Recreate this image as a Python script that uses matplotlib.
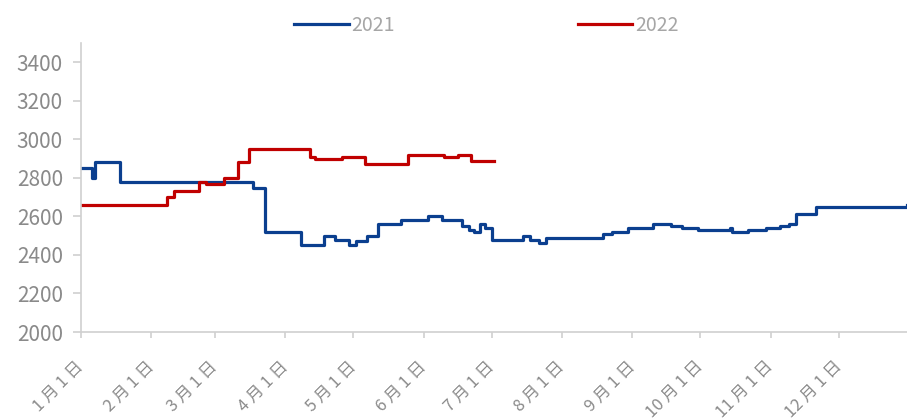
import matplotlib
matplotlib.use("Agg")
import matplotlib.pyplot as plt
import pandas as pd

plt.rcParams["font.family"] = ["Noto Sans CJK SC", "DejaVu Sans"]

# 2021: step breakpoints (day of year, price)
days_2021 = [0, 5, 6, 17, 76, 81, 97, 107, 112, 118, 121, 126, 131, 141, 153, 159,
             168, 171, 173, 176, 178, 181, 195, 198, 202, 205, 230, 234, 241, 252,
             260, 265, 272, 286, 287, 294, 302, 308, 312, 315, 324, 364]
vals_2021 = [2850, 2800, 2880, 2780, 2750, 2520, 2450, 2500, 2480, 2450, 2470, 2500, 2560, 2580, 2600, 2580,
             2550, 2530, 2520, 2560, 2540, 2480, 2500, 2480, 2460, 2490, 2510, 2520, 2540, 2560,
             2550, 2540, 2530, 2540, 2520, 2530, 2540, 2550, 2560, 2610, 2650, 2660]

# 2022: step breakpoints
days_2022 = [0, 38, 41, 52, 55, 63, 69, 74, 101, 103, 115, 125, 144, 160, 166, 172, 182]
vals_2022 = [2660, 2700, 2730, 2780, 2770, 2800, 2880, 2950, 2910, 2900, 2910, 2870, 2920,
             2910, 2920, 2890, 2890]

month_labels = [f"{m} 月 1 日" for m in range(1, 13)]

base = pd.Timestamp("2021-01-01")
x21 = [base + pd.Timedelta(days=d) for d in days_2021]
x22 = [base + pd.Timedelta(days=d) for d in days_2022]

fig = plt.figure(figsize=(9.07, 4.2), dpi=100)
ax = fig.add_axes([0.0893, 0.2095, 0.9107, 0.688])

ax.plot(x21, vals_2021, drawstyle="steps-post", color="#0b3f8f", lw=2.3, label="2021")
ax.plot(x22, vals_2022, drawstyle="steps-post", color="#c00000", lw=2.3, label="2022")

ax.set_ylim(2000, 3500)
ax.set_yticks(range(2000, 3401, 200))
ax.set_xlim(base, pd.Timestamp("2021-12-31"))
ticks = [pd.Timestamp(f"2021-{m:02d}-01") for m in range(1, 13)]
ax.set_xticks(ticks)
ax.set_xticklabels(month_labels, rotation=45, ha="right", va="center", rotation_mode="anchor")

for s in ["top", "right"]:
    ax.spines[s].set_visible(False)
for s in ["left", "bottom"]:
    ax.spines[s].set_color("#d0d0d0")
    ax.spines[s].set_linewidth(1.2)
ax.tick_params(axis="both", colors="#d0d0d0", labelcolor="#8a8a8a", width=1.2)
ax.tick_params(axis="y", labelsize=15, length=6, pad=7)
ax.tick_params(axis="x", labelsize=12, length=4, pad=19)

leg = fig.legend(loc="center", bbox_to_anchor=(486.5 / 907, 0.94), ncol=2, frameon=False,
                 handlelength=2.8, handletextpad=0.15, columnspacing=9.4, fontsize=14)
for t in leg.get_texts():
    t.set_color("#a6a6a6")

fig.savefig("out.png", dpi=100)
